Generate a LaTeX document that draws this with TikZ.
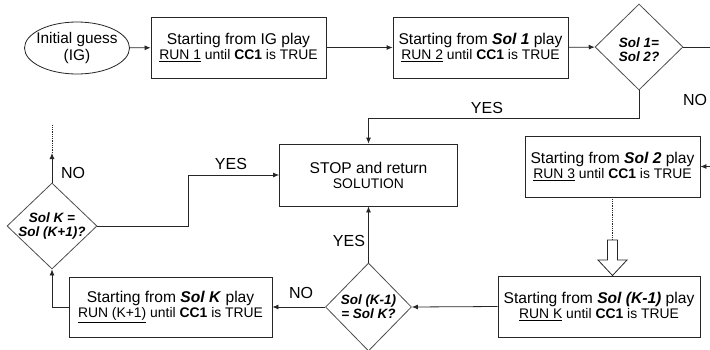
\documentclass[tikz,border=0pt]{standalone}
\usepackage{fontspec}
\setmainfont{Liberation Sans}
\usetikzlibrary{shapes.geometric,arrows.meta}
\newcommand\fla{\fontsize{15.6}{15}\selectfont}
\newcommand\flb{\fontsize{13.9}{15}\selectfont}
\begin{document}
\begin{tikzpicture}[x=1pt,y=-1pt,
  ln/.style={draw=black!85, line width=0.8pt},
  arr/.style={ln, -{Latex[length=6pt,width=5pt]}},
  boxnode/.style={ln, rectangle, inner sep=0pt, align=center, font=\fla},
  dia/.style={draw=black!70, line width=0.8pt, diamond, inner sep=0pt},
  dtext/.style={align=center, inner sep=0pt, font=\fontsize{13.5}{14}\selectfont\bfseries\itshape},
  lab/.style={inner sep=0pt, font=\fontsize{16}{18}\selectfont}
]
\useasboundingbox (0,0) rectangle (710,349);

% nodes
\node[ln, ellipse, minimum width=105pt, minimum height=52pt, inner sep=0pt] (ig) at (77,48) {};
\node[align=center, inner sep=0pt, font=\fontsize{15.4}{17}\selectfont] at (ig) {Initial guess\\(IG)};

\node[boxnode, minimum width=175pt, minimum height=61pt] (b1) at (238.5,47.5)
  {Starting from IG play\\\flb\underline{RUN 1} until \textbf{CC1} is TRUE};
\node[boxnode, minimum width=175pt, minimum height=61pt] (b2) at (480.5,47.5)
  {Starting from \textbf{\textit{Sol 1}} play\\\flb\underline{RUN 2} until \textbf{CC1} is TRUE};
\node[dia, minimum width=88pt, minimum height=86pt] (d1) at (639,47) {};
\node[dtext] at ([yshift=-3pt]d1.center) {Sol 1=\\Sol 2?};

\node[boxnode, minimum width=178pt, minimum height=62pt] (stop) at (368.5,175)
  {STOP and return\\\flb SOLUTION};

\node[boxnode, minimum width=175pt, minimum height=61pt] (b3) at (612.5,166.5)
  {Starting from \textbf{\textit{Sol 2}} play\\\flb\underline{RUN 3} until \textbf{CC1} is TRUE};
\node[boxnode, minimum width=202pt, minimum height=61pt] (b4) at (599,306.5)
  {Starting from \textbf{\textit{Sol (K-1)}} play\\\flb\underline{RUN K} until \textbf{CC1} is TRUE};
\node[dia, minimum width=86pt, minimum height=88pt] (d2) at (368.5,307) {};
\node[dtext] at (d2) {Sol (K-1)\\= Sol K?};
\node[boxnode, minimum width=203pt, minimum height=60pt] (b5) at (170.5,307)
  {Starting from \textbf{\textit{Sol K}} play\\\flb\underline{RUN (K+1)} until \textbf{CC1} is TRUE};
\node[dia, minimum width=90pt, minimum height=86pt] (d3) at (52,226) {};
\node[dtext] at (d3) {Sol K =\\Sol (K+1)?};

% coordinates
\coordinate (r1) at (712,47);
\coordinate (r2) at (712,166.5);
\coordinate (ha) at (612.5,240);
\coordinate (up1) at (52,153);
\coordinate (up2) at (52,125);

% connectors
\draw[arr] (ig) -- (b1);
\draw[arr] (b1) -- (b2);
\draw[arr] (b2) -- (d1);
\draw[ln] (d1.east) -- (r1);
\draw[arr] (r2) -- (b3.east);
\draw[arr] (d1.south) -- ++(0,28) -| (stop.north);
\draw[ln, densely dotted] (b3.south) -- (ha);
\draw[ln, fill=white] (607.5,240) -- (617.5,240) -- (617.5,260) -- (627,260) -- (612.5,275.5)
  -- (598,260) -- (607.5,260) -- cycle;
\draw[arr] (b4.west) -- (d2.east);
\draw[arr] (d2.north) -- (stop.south);
\draw[arr] (d2.west) -- (b5.east);
\draw[arr] (b5.west) -| (d3.south);
\draw[arr] (d3.north) -- (up1);
\draw[ln, densely dotted] (up1) -- (up2);
\draw[arr] (d3.east) -- ++(91,0) |- (stop.west);

% labels
\node[lab] at (487,108) {YES};
\node[lab] at (695,100) {NO};
\node[lab] at (231,164) {YES};
\node[lab] at (73,173) {NO};
\node[lab] at (349,241) {YES};
\node[lab] at (301,293) {NO};
\end{tikzpicture}
\end{document}
